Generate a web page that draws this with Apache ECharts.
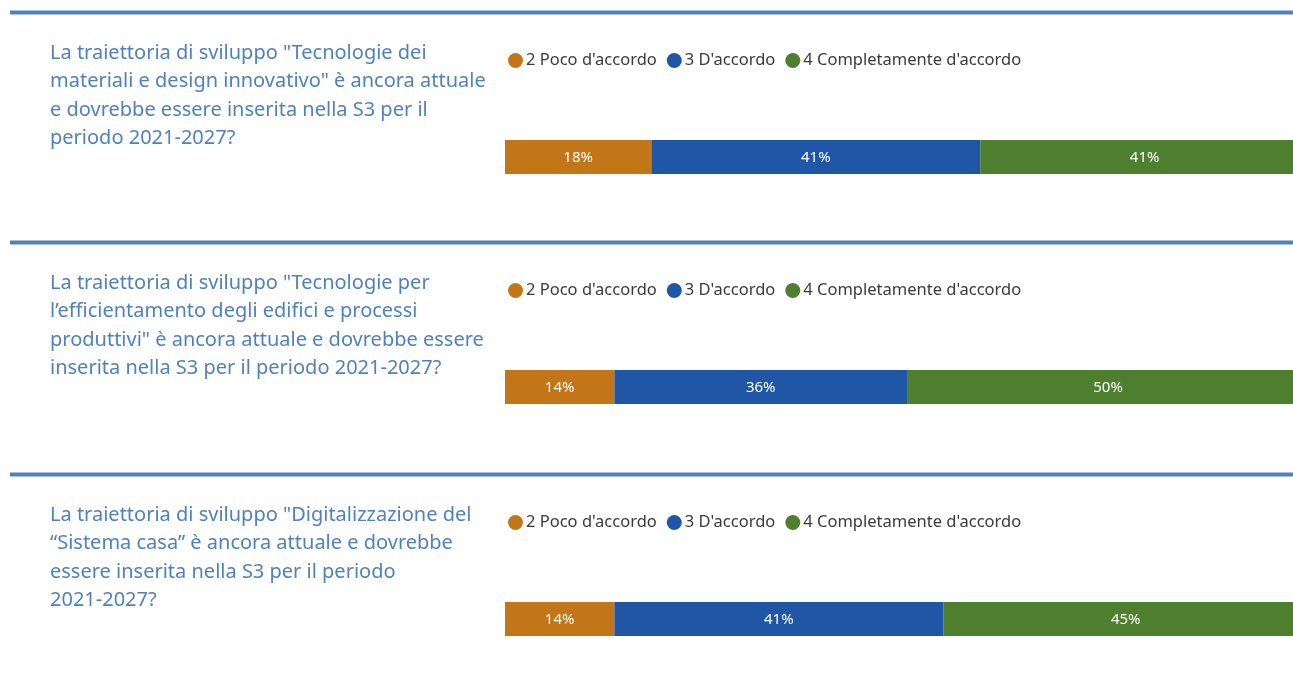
<!DOCTYPE html>
<html>
<head>
<meta charset="utf-8">
<script src="https://cdn.jsdelivr.net/npm/echarts@6/dist/echarts.min.js"></script>
<style>
  html, body { margin: 0; padding: 0; background: #ffffff; }
  #chart { width: 1293px; height: 700px; }
</style>
</head>
<body>
<div id="chart"></div>
<script>
// Questions (one panel each)
const questions = [
  'La traiettoria di sviluppo "Tecnologie dei\nmateriali e design innovativo" è ancora attuale\ne dovrebbe essere inserita nella S3 per il\nperiodo 2021-2027?',
  'La traiettoria di sviluppo "Tecnologie per\nl\u2019efficientamento degli edifici e processi\nproduttivi" è ancora attuale e dovrebbe essere\ninserita nella S3 per il periodo 2021-2027?',
  'La traiettoria di sviluppo "Digitalizzazione del\n\u201cSistema casa\u201d è ancora attuale e dovrebbe\nessere inserita nella S3 per il periodo\n2021-2027?'
];
// Response categories
const seriesNames = ["2 Poco d'accordo", "3 D'accordo", "4 Completamente d'accordo"];
// Shares (%) per question
const pocoAccordo = [18.2, 13.6, 13.6];
const dAccordo = [40.9, 36.4, 40.9];
const completamente = [40.9, 50.0, 45.4];
const seriesValues = [pocoAccordo, dAccordo, completamente];

const colors = ['#c27617', '#1f56a6', '#4e7f2e'];
const panelTop = [12, 242, 474];

const chart = echarts.init(document.getElementById('chart'), null, { renderer: 'canvas' });

const grids = [], xAxes = [], yAxes = [], series = [], legends = [], titles = [], graphics = [];
questions.forEach((q, i) => {
  const base = panelTop[i];
  graphics.push({
    type: 'line', z: 10,
    shape: { x1: 10, y1: base + 0.5, x2: 1293, y2: base + 0.5 },
    style: { stroke: '#4f81bd', lineWidth: 4 }
  });
  titles.push({
    text: q, left: 45, top: base + 22,
    textStyle: { fontFamily: 'Noto Sans', fontSize: 20, fontWeight: 'normal', color: '#4f81bd', lineHeight: 28.5 }
  });
  legends.push({
    data: seriesNames, left: 503, top: base + 35,
    icon: 'circle', itemWidth: 15, itemHeight: 15, itemGap: 10,
    textStyle: { fontFamily: 'Noto Sans', fontSize: 16.5, color: '#3a3a3a', padding: [0, 0, 0, -2] }
  });
  // the bar runs slightly past the right edge of the picture: 98% reaches x=1293
  grids.push({ left: 505, top: base + 128, right: 0, height: 34 });
  xAxes.push({ gridIndex: i, type: 'value', min: 0, max: 98, show: false });
  yAxes.push({ gridIndex: i, type: 'category', data: ['q' + i], show: false });
  seriesNames.forEach((name, s) => {
    series.push({
      name: name, type: 'bar', stack: 'p' + i, xAxisIndex: i, yAxisIndex: i,
      barWidth: '100%', color: colors[s], clip: false,
      data: [seriesValues[s][i]],
      label: {
        show: true, position: 'inside', color: '#ffffff',
        fontFamily: 'Noto Sans', fontSize: 15, offset: [0, 1],
        formatter: p => Math.round(p.value) + '%'
      },
      emphasis: { disabled: true }
    });
  });
});

chart.setOption({
  animation: false,
  backgroundColor: '#ffffff',
  color: colors,
  title: titles,
  legend: legends,
  grid: grids,
  xAxis: xAxes,
  yAxis: yAxes,
  series: series,
  graphic: graphics
});
</script>
</body>
</html>
